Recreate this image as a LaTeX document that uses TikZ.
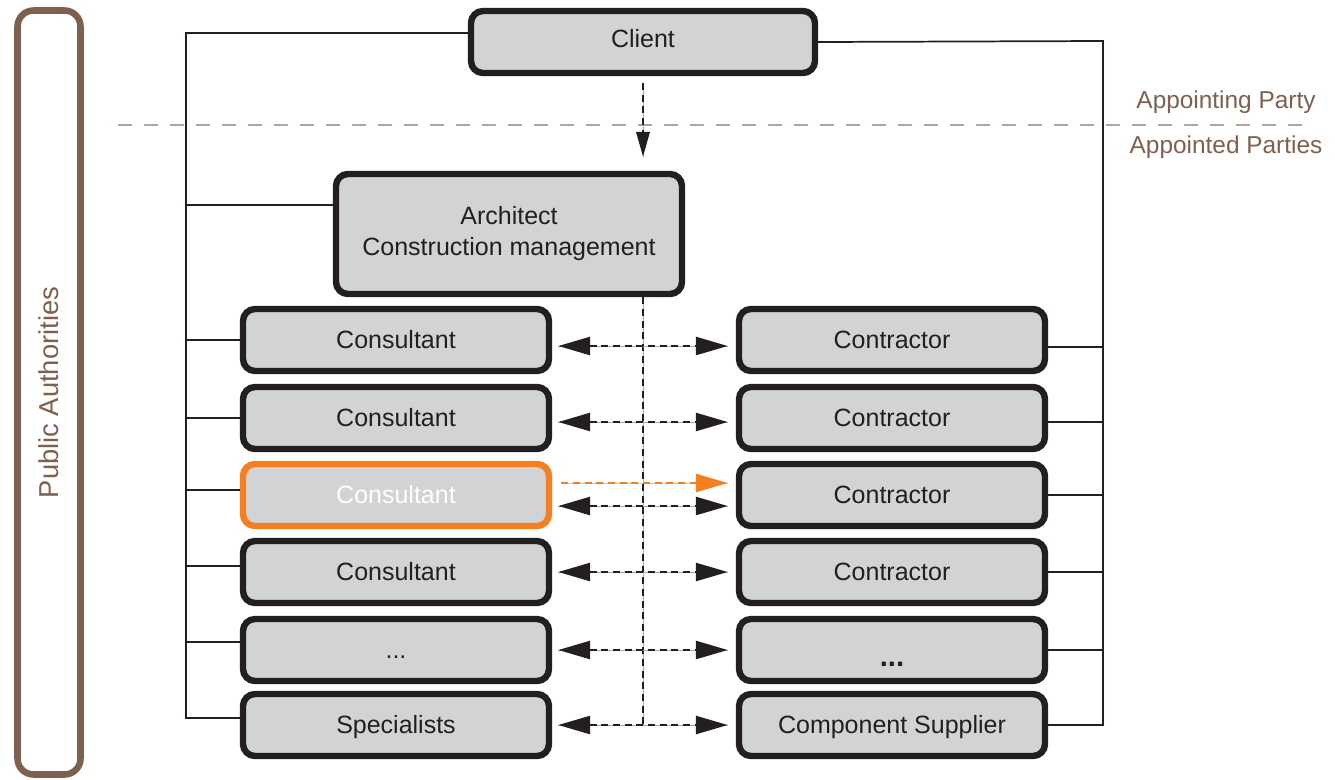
\documentclass[tikz,border=0pt]{standalone}
\usepackage{fontspec}
\setmainfont{Liberation Sans}
\usetikzlibrary{arrows.meta}
\usepackage{xcolor}
\definecolor{boxgrey}{HTML}{D1D3D4}
\definecolor{boxline}{HTML}{231F20}
\definecolor{authbrown}{HTML}{7F5F4F}
\definecolor{sepbrown}{HTML}{B5A49B}
\definecolor{hiorange}{HTML}{F47E20}
\definecolor{undergrey}{HTML}{A7A9AC}

\begin{document}
\begin{tikzpicture}[x=0.75pt,y=0.75pt,yscale=-1,xscale=1,
  party/.style={draw=boxline,fill=boxgrey,line width=4.8pt,rounded corners=9pt,minimum width=229.5pt,minimum height=46.5pt,inner sep=0pt,text=boxline,font=\fontsize{18.75}{23.25}\selectfont,text height=13.4pt,text depth=0pt},
  link/.style={draw=boxline,line width=1.3pt},
  dlink/.style={draw=boxline,line width=1.9pt,dash pattern=on 5.25pt off 3.5pt,preaction={draw=undergrey,line width=0.6pt,solid,-}},
  olink/.style={draw=hiorange,line width=1.9pt,dash pattern=on 5.25pt off 3.5pt,preaction={draw=hiorange!55,line width=0.6pt,solid,-}},
  bothtips/.style={{Triangle[length=24pt,width=13.5pt]}-{Triangle[length=24pt,width=13.5pt]}},
  righttip/.style={-{Triangle[length=24pt,width=13.5pt]}},
  sepline/.style={draw=sepbrown,line width=1.1pt,dash pattern=on 10.5pt off 9pt},
  lbl/.style={text=authbrown,inner sep=0.75pt,font=\fontsize{18.3}{22}\selectfont}
]
\useasboundingbox (0,0) rectangle (1335,779);

%Shape: Public Authorities frame
\draw (49,392.5) node [draw=authbrown,line width=4.9pt,rounded corners=12pt,rotate=90,minimum width=573pt,minimum height=47.25pt,text=authbrown,font=\fontsize{20.5}{24}\selectfont] (pubauth) {Public Authorities};

%Straight Lines: party separator
\draw [sepline] (118,125) -- (1313,125);
% Text Node
\draw (1226,102) node [lbl] (appointing) {Appointing Party};
% Text Node
\draw (1226,147) node [lbl] (appointed) {Appointed Parties};

%Shape: Client
\draw (643,42) node [party,minimum width=258pt] (client) {\raisebox{2.25pt}{Client}};
%Shape: Architect
\draw (509,234) node [party,minimum width=259.5pt,minimum height=90pt,align=center,text height={},text depth={}] (arch) {Architect\\Construction management};

%Shape: Consultants column
\draw (396,340) node [party] (cons1) {Consultant};
\draw (396,418) node [party] (cons2) {Consultant};
\draw (396,495) node [party,draw=hiorange,text=white] (cons3) {Consultant};
\draw (396,572) node [party] (cons4) {Consultant};
\draw (396,650) node [party] (cons5) {...};
\draw (396,725) node [party] (spec) {Specialists};

%Shape: Contractors column
\draw (892,340) node [party] (contr1) {Contractor};
\draw (892,418) node [party] (contr2) {Contractor};
\draw (892,495) node [party] (contr3) {Contractor};
\draw (892,572) node [party] (contr4) {Contractor};
\draw (892,650) node [party] (contr5) {\raisebox{-5.5pt}{\bfseries\fontsize{22}{22}\selectfont ...}};
\draw (892,725) node [party] (supp) {Component Supplier};

%Straight Lines: left trunk
\coordinate (trunkL) at (186,33);
\coordinate (trunkLend) at (186,718);
\draw [link] ([yshift=-6.75pt]client.west) -- (trunkL) -- (trunkLend) -- (trunkLend -| spec.west);
\draw [link] ([yshift=-21.75pt]arch.west) -| (trunkL);
\draw [link] (cons1.west) -| (trunkL);
\draw [link] (cons2.west) -| (trunkL);
\draw [link] ([yshift=-3.75pt]cons3.west) -| (trunkL);
\draw [link] ([yshift=-4.5pt]cons4.west) -| (trunkL);
\draw [link] ([yshift=-6pt]cons5.west) -| (trunkL);

%Straight Lines: right trunk
\coordinate (trunkR) at (1103,41);
\draw [link] (client.east) -- (trunkR) -- (trunkR |- supp.east) -- (supp.east);
\draw [link] ([yshift=5.25pt]contr1.east) -| (trunkR);
\draw [link] ([yshift=3pt]contr2.east) -| (trunkR);
\draw [link] (contr3.east) -| (trunkR);
\draw [link] (contr4.east) -| (trunkR);
\draw [link] (contr5.east) -| (trunkR);

%Straight Lines: appointment arrows
\draw [dlink,-{Triangle[length=18.75pt,width=10pt]},shorten <=5pt,shorten >=10.5pt] (client.south) -- (client.south |- arch.north);
\draw [dlink] (client.south |- arch.south) -- (client.south |- supp.west);

\draw [dlink,bothtips,shorten <=4.5pt,shorten >=6pt] ([yshift=4.5pt]cons1.east) -- ([yshift=4.5pt]contr1.west);
\draw [dlink,bothtips,shorten <=4.5pt,shorten >=6pt] ([yshift=3pt]cons2.east) -- ([yshift=3pt]contr2.west);
\draw [olink,righttip,shorten <=6.75pt,shorten >=6pt] ([yshift=-9pt]cons3.east) -- ([yshift=-9pt]contr3.west);
\draw [dlink,bothtips,shorten <=4.5pt,shorten >=6pt] ([yshift=8.25pt]cons3.east) -- ([yshift=8.25pt]contr3.west);
\draw [dlink,bothtips,shorten <=4.5pt,shorten >=6pt] (cons4.east) -- (contr4.west);
\draw [dlink,bothtips,shorten <=4.5pt,shorten >=6pt] (cons5.east) -- (contr5.west);
\draw [dlink,bothtips,shorten <=4.5pt,shorten >=6pt] (spec.east) -- (supp.west);

\end{tikzpicture}
\end{document}
